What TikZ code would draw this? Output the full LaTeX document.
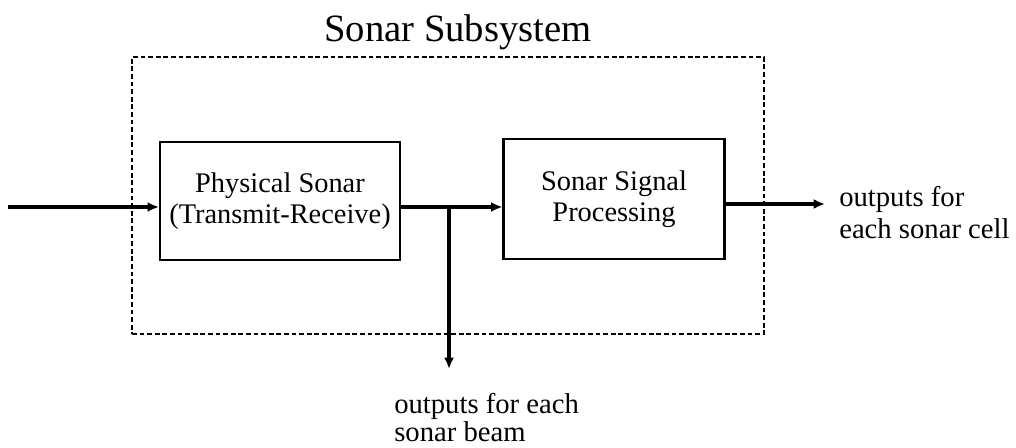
\documentclass[tikz,border=0pt]{standalone}
\usepackage{fontspec}
\setmainfont{Liberation Serif}
\usetikzlibrary{arrows.meta}
\begin{document}
\begin{tikzpicture}[x=0.75pt,y=-0.75pt,
  blockbox/.style={draw, line width=1.6pt, align=center, inner sep=0pt,
    font=\fontsize{21.3}{23.5}\selectfont},
  conn/.style={line width=2.5pt, -{Latex[length=8.5pt,width=7.5pt]}},
  plain/.style={line width=2.5pt},
  lbl/.style={align=left, inner sep=0pt},
  frame/.style={draw, line width=2.2pt, dash pattern=on 3.6pt off 2.1pt}]
\useasboundingbox (0,0) rectangle (1016,447);
\node[font=\fontsize{29}{33}\selectfont, inner sep=0pt, anchor=base] (title) at (458,41) {Sonar Subsystem};
\node[frame, minimum width=632*0.75pt, minimum height=277*0.75pt, inner sep=0pt] (sub) at (448,195.5) {};
\node[blockbox, minimum width=240*0.75pt, minimum height=118*0.75pt] (phys) at (280,201) {Physical Sonar\\(Transmit-Receive)};
\node[blockbox, minimum width=221*0.75pt, minimum height=120*0.75pt] (proc) at (614,199) {Sonar Signal\\Processing};
\coordinate (in) at (8,207);
\coordinate (br) at (449,207);
\coordinate (beamend) at (449,369);
\coordinate (cellend) at (825,204);
\node[lbl, font=\fontsize{21.5}{23.3}\selectfont, anchor=base west] (cell) at (839,238) {outputs for\\each sonar cell};
\node[lbl, font=\fontsize{21.5}{20.8}\selectfont, anchor=base west] (beam) at (394,441) {outputs for each\\sonar beam};
\draw[conn] (in) -- (in -| phys.west);
\draw[plain] (br -| phys.east) -- (br);
\draw[conn] (br) -- (br -| proc.west);
\draw[conn] (br) -- (beamend);
\draw[conn] (cellend -| proc.east) -- (cellend);
\end{tikzpicture}
\end{document}
